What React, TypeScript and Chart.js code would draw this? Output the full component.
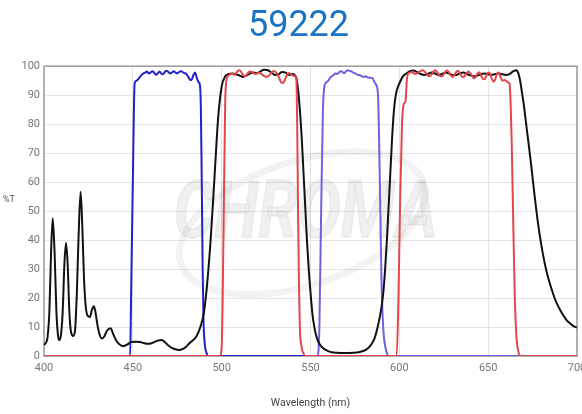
import React, { useEffect, useRef } from "react";
import { Chart, registerables } from "chart.js";

Chart.register(...registerables);

const chartTitle = "59222";
const xAxisTitle = "Wavelength (nm)";
const yAxisTitle = "%T";
const xTicks = [400, 450, 500, 550, 600, 650, 700];
const yTicks = [0, 10, 20, 30, 40, 50, 60, 70, 80, 90, 100];

// Dichroic (black)
const dichroicWl = [400,401,402,403,404,404.9,406,407,408,408.6,409.5,410.5,411.5,412.4,413.3,414.3,415.3,416.5,417.5,418.5,419.5,420.6,421.6,422.5,423.5,424.5,425.9,427,428.1,429,430,431,432.5,434,435.5,437.5,439,441,443,444.6,447,449,452,454,456,458,460,462,464,466,467,468,470,472,474,476,478,480,482,484,486,488,490,492,494,496,498,500,502,504,506,508,510,512,514,516,518,520,522,524,526,528,530,532,534,536,538,540,541,542,543,544,545,546,547,548,549,550,551,552,553,554,555,556,558,560,562,565,568,571,574,577,580,582,584,586,587,588,589,590,591,592,593,594,595,596,597,598,599,600,602,604,606,608,610,612,614,616,618,620,622,624,626,628,630,632,634,636,638,640,642,644,646,648,650,652,654,656,658,660,662,664,666,667,668,669,670,671,672,674,676,678,680,682,684,686,688,690,692,694,696,698,700];
const dichroicT = [3.8,4.5,6.5,15,36,47.5,35,15,6.5,5.5,7,15,32,39,32,15,8,6.9,9,22,42,56.7,44,27,17,14,13.5,16,17.2,15,11,8,6,6.8,8.8,9.6,7.5,5,3.8,3.4,4,4.8,4.9,4.8,4.5,4.2,4.3,4.8,5.3,5.5,5.3,4.8,3.6,2.8,2.3,2.1,2.4,3.2,4.5,5.5,7,10,15,26,42,62,82,93,96.5,97.3,97.5,97.2,96.8,96.3,96.8,97.5,97.8,97.6,98.3,98.8,98.6,97.8,97,97.2,98,97.8,97,97.3,97,96,92,85,76,64,52,40,30,22,15,10.5,7.5,5.5,4.2,3.3,2.3,1.7,1.3,1.1,1,1,1.1,1.3,1.8,2.5,3.8,6,8,10.5,13.5,17,22,30,40,52,64,76,85,90,92.5,94,96.5,97.5,98.3,98.5,98,97.3,97,97.3,97.8,97.5,97,97.3,97.8,97.5,97,97,97.5,97.8,97.3,96.8,96.5,96.8,97.3,97.5,97.2,97,97.3,97.5,97.2,97,97.3,98.2,98.6,97.5,95,91,87,82,77,67,56,46,38,31.5,26.5,22.5,19,16.5,14.3,12.5,11.3,10.3,9.8];

// Excitation band 1 (dark blue)
const excite1Wl = [400,448.5,449,450,451,452,453,454,455,456,457,458,459,460,461,462,463,464,465,466,467,468,469,470,471,472,473,474,475,476,477,478,479,480,481,482,483,484,485,486,487,487.8,488.3,488.8,489.3,489.8,490.5,491.5,492.5,550];
const excite1T = [0,0,20,60,94,95,95.5,96.3,97,97.5,97.8,98.2,97.5,97.8,98.3,97.8,97,97.5,98.2,97.5,97.2,98,98.4,98,97.5,97.8,98.3,97.8,97.5,98,98.3,98,97.6,97.4,96.5,95.5,95.2,96.8,97.8,96,94.5,93.3,85,60,30,12,4,1,0,0];

// Excitation band 2 (light blue)
const excite2Wl = [550,554,555,556,557,558,559,560,561,562,563,564,565,566,567,568,569,570,571,572,573,574,575,576,577,578,579,580,581,582,583,584,585,586,587,588,588.6,589.3,590,591,592,593,594,700];
const excite2T = [0,0,10,50,85,93.5,94.5,95,96,96.5,97,97.5,97.3,97.8,98.3,98,97.6,98.2,98.6,98.4,98.2,97.8,97.6,97.2,97,96.8,96.5,96.3,96.5,96.2,96,96,95.8,94.5,93.5,90,75,50,25,9,3.5,1,0,0];

// Emission dual band (red)
const emitWl = [400,499,500,501,502,503,504,505,506,507,508,509,510,511,512,513,514,515,516,517,518,519,520,521,522,523,524,525,526,527,528,529,530,531,532,533,534,535,536,537,538,539,540,541,542,542.5,543,543.5,544,545,546,547,598.5,599.5,600.5,601.5,602.5,603.5,604.2,605,606,607,608,609,610,611,612,613,614,615,616,617,618,619,620,621,622,623,624,625,626,627,628,629,630,631,632,633,634,635,636,637,638,639,640,641,642,643,644,645,646,647,648,649,650,651,652,653,654,655,656,657,658,659,660,661,662,662.6,663.2,664,665,666,667,668,700];
const emitT = [0,0,3,40,88,96,96.8,97.3,97.5,97,97.5,98.3,98.6,98,97,96.5,97,97.8,98.2,98,97.5,97.3,97.5,97.8,97.5,97,96.6,96.3,96.5,97,97.8,98.3,98.2,97.5,96.5,95,94.2,94.5,96,97.3,97.6,97.2,96.8,96.6,96,80,50,25,10,3,1,0,0,20,55,80,87,88,95,97.5,97.8,98,97.6,97.3,97.5,98,98.4,98.6,98.3,97.6,96.8,96.5,97,98,98.6,98.2,97.3,96.6,96.5,97.2,98.2,98.5,97.8,96.8,96.3,97,98,98.4,97.6,96.6,96.2,96.8,97.8,98.2,97.5,96.5,95.8,96.3,97.5,97.9,96.8,95.6,95.5,96.8,97.8,97.5,95.8,94.6,95.5,97.5,97.8,96.2,95,95.2,95,94.5,94,88,75,50,20,6,1.5,0,0];

const zip = (xs: number[], ys: number[]) => xs.map((x, i) => ({ x, y: ys[i] }));

const FONT = "Roboto, 'Liberation Sans', Arial, sans-serif";

const decorPlugin = {
  id: "decor",
  beforeDatasetsDraw(chart: any) {
    const { ctx, chartArea } = chart;
    const { left, top, right, bottom } = chartArea;
    ctx.save();
    // watermark
    const cx = (left + right) / 2 - 5;
    const cy = top + (bottom - top) * 0.52;
    ctx.translate(cx, cy);
    ctx.rotate(-0.32);
    ctx.beginPath();
    ctx.ellipse(-5, 5, 128, 62, 0, 0, Math.PI * 2);
    ctx.lineWidth = 7;
    ctx.strokeStyle = "rgba(0,0,0,0.05)";
    ctx.stroke();
    ctx.rotate(0.32);
    ctx.scale(1, 1.25);
    ctx.font = `italic bold 64px ${FONT}`;
    ctx.textAlign = "center";
    ctx.textBaseline = "middle";
    ctx.fillStyle = "rgba(0,0,0,0.06)";
    ctx.fillText("CHROMA", 0, 0);
    ctx.lineWidth = 1.5;
    ctx.strokeStyle = "rgba(0,0,0,0.05)";
    ctx.strokeText("CHROMA", 0, 0);
    ctx.restore();
    // frame
    ctx.save();
    ctx.strokeStyle = "#9a9a9a";
    ctx.lineWidth = 1.5;
    ctx.strokeRect(left, top, right - left, bottom - top);
    ctx.restore();
  },
  afterDraw(chart: any) {
    const { ctx, chartArea } = chart;
    ctx.save();
    ctx.font = `9px ${FONT}`;
    ctx.fillStyle = "#555";
    ctx.textAlign = "center";
    ctx.textBaseline = "middle";
    ctx.fillText(yAxisTitle, 9, chartArea.top + (chartArea.bottom - chartArea.top) * 0.46);
    ctx.restore();
  },
};

export default function App() {
  const ref = useRef<HTMLCanvasElement | null>(null);
  useEffect(() => {
    if (!ref.current) return;
    const line = (label: string, xs: number[], ys: number[], color: string, order: number) => ({
      label,
      data: zip(xs, ys),
      borderColor: color,
      backgroundColor: color,
      borderWidth: 2,
      pointRadius: 0,
      cubicInterpolationMode: "monotone",
      fill: false,
      order,
    });
    const chart = new Chart(ref.current, {
      type: "line",
      data: {
        datasets: [
          line("Emission", emitWl, emitT, "#e2474b", 0),
          line("Dichroic", dichroicWl, dichroicT, "#111111", 1),
          line("Excitation 2", excite2Wl, excite2T, "#6b62e2", 2),
          line("Excitation 1", excite1Wl, excite1T, "#2121c9", 3),
        ],
      },
      options: {
        animation: false,
        responsive: false,
        maintainAspectRatio: false,
        layout: { padding: { left: 20, right: 5, top: 0, bottom: 0 } },
        plugins: {
          legend: { display: false },
          tooltip: { enabled: false },
          title: {
            display: true,
            text: chartTitle,
            color: "#1a73c4",
            font: { family: FONT, size: 36, weight: "normal" },
            padding: { top: 5, bottom: 18 },
          },
        },
        scales: {
          x: {
            type: "linear",
            min: xTicks[0],
            max: xTicks[xTicks.length - 1],
            afterBuildTicks: (s: any) => { s.ticks = xTicks.map((v) => ({ value: v })); },
            afterFit: (s: any) => { s.paddingLeft = 0; s.paddingRight = 0; s.height = 58; },
            grid: { color: "#e4e4e4", drawTicks: false },
            border: { display: false },
            ticks: { color: "#777", font: { family: FONT, size: 11 }, padding: 6, maxRotation: 0 },
            title: {
              display: true,
              text: xAxisTitle,
              color: "#444",
              font: { family: FONT, size: 10.5 },
              padding: { top: 0, bottom: 4 },
            },
          },
          y: {
            type: "linear",
            min: yTicks[0],
            max: yTicks[yTicks.length - 1],
            afterBuildTicks: (s: any) => { s.ticks = yTicks.map((v) => ({ value: v })); },
            afterFit: (s: any) => { s.width = 24; },
            grid: { color: "#e4e4e4", drawTicks: false },
            border: { display: false },
            ticks: { color: "#777", font: { family: FONT, size: 11 }, padding: 4 },
          },
        },
      },
      plugins: [decorPlugin],
    } as any);
    return () => chart.destroy();
  }, []);
  return (
    <div style={{ position: "fixed", left: 0, top: 0, width: 582, height: 414, background: "#fff" }}>
      <canvas ref={ref} width={582} height={414} style={{ width: 582, height: 414, display: "block" }} />
    </div>
  );
}
